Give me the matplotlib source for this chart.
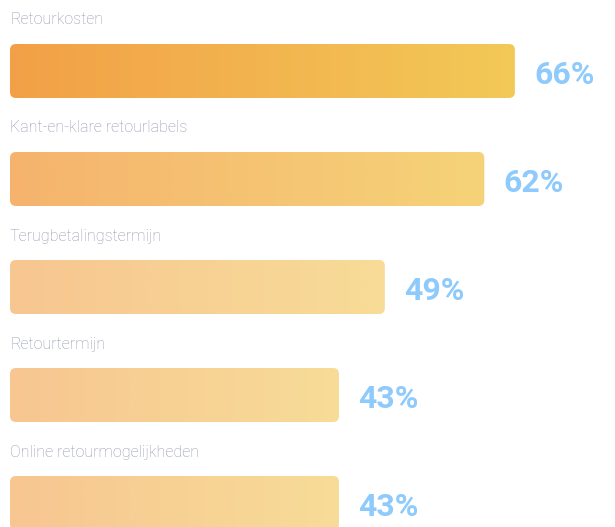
import matplotlib.pyplot as plt
import numpy as np
from matplotlib.colors import LinearSegmentedColormap
from matplotlib.patches import FancyBboxPatch

labels = ["Retourkosten", "Kant-en-klare retourlabels", "Terugbetalingstermijn",
          "Retourtermijn", "Online retourmogelijkheden"]
values = [66, 62, 49, 43, 43]
left_colors = ["#f2a047", "#f5b36d", "#f7c691", "#f7c691", "#f7c691"]
right_colors = ["#f3c957", "#f5d378", "#f7dc97", "#f7dc97", "#f7dc97"]

W, H = 615, 527
px_per_unit = 7.65       # pixels per percent
row_px = 108             # pixels between rows

fig = plt.figure(figsize=(W / 100, H / 100), dpi=100)
ax = fig.add_axes([0, 0, 1, 1])
ax.axis("off")

bar_h = 54 / row_px
grad = np.linspace(0, 1, 256).reshape(1, -1)

for i, (lab, v) in enumerate(zip(labels, values)):
    cmap = LinearSegmentedColormap.from_list("g%d" % i, [left_colors[i], right_colors[i]])
    patch = FancyBboxPatch((0, i - bar_h / 2), v, bar_h,
                           boxstyle="round,pad=0,rounding_size=%f" % (6 / px_per_unit),
                           mutation_aspect=px_per_unit / row_px,
                           facecolor="none", edgecolor="none")
    ax.add_patch(patch)
    im = ax.imshow(grad, cmap=cmap, aspect="auto",
                   extent=(0, v, i + bar_h / 2, i - bar_h / 2), zorder=2)
    im.set_clip_path(patch)
    ax.text(0, i - 51 / row_px, lab, fontsize=11.5, family="Roboto", weight="light",
            color="#9297ac", va="center", ha="left")
    ax.text(v + 19 / px_per_unit, i + 4 / row_px, "%d%%" % v, fontsize=23,
            family="Roboto", weight="bold", color="#8ecafc", va="center", ha="left")

ax.set_xlim(-10 / px_per_unit, (W - 10) / px_per_unit)
ax.set_ylim((H - 71) / row_px, -71 / row_px)
fig.savefig("out.png", dpi=100)
